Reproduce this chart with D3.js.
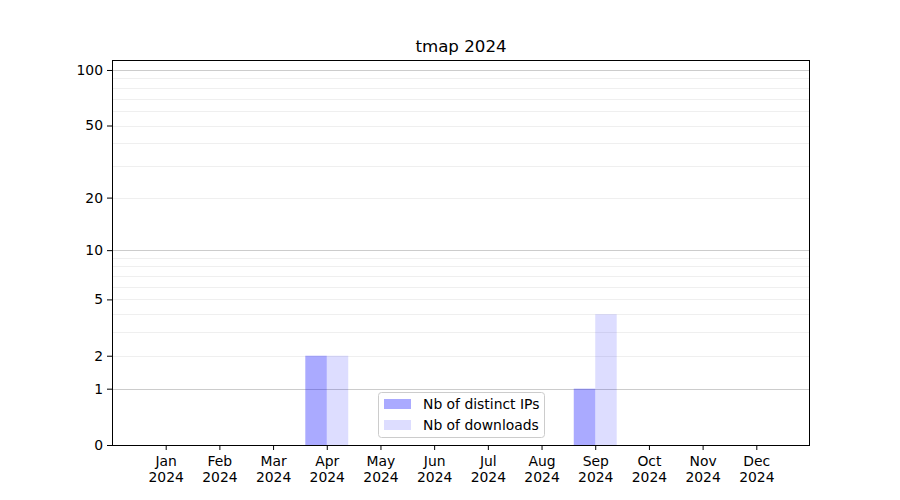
<!DOCTYPE html>
<html><head><meta charset="utf-8">
<script src="https://cdn.jsdelivr.net/npm/d3@7"></script>
<style>body{margin:0;background:#fff}svg{display:block}text{font-family:"DejaVu Sans",sans-serif}</style>
</head><body><svg id="c" width="900" height="500"></svg>
<script>
const months = ["Jan","Feb","Mar","Apr","May","Jun","Jul","Aug","Sep","Oct","Nov","Dec"];
const year = "2024";
const distinctIPs = [0,0,0,2,0,0,0,0,1,0,0,0];
const downloads = [0,0,0,2,0,0,0,0,4,0,0,0];
const yTicks = [0,1,2,5,10,20,50,100];
const majorGrid = [1,10,100];
const minorGrid = [2,3,4,5,6,7,8,9,20,30,40,50,60,70,80,90];
const seriesNames = ["Nb of distinct IPs","Nb of downloads"];
const title = "tmap 2024";

const svg = d3.select("#c");
const L=112,R=810,T=60,B=445;
const x = d3.scaleLinear().domain([-1,12]).range([L,R]);
const y = d3.scaleSymlog().constant(1).domain([0,113.2]).range([B,T]);
const bw = 0.4;

const g = svg.append("g");
g.selectAll(".mg").data(minorGrid).join("line")
  .attr("x1",L).attr("x2",R).attr("y1",d=>Math.round(y(d))+0.5).attr("y2",d=>Math.round(y(d))+0.5)
  .attr("stroke","#ebebeb").attr("stroke-width",0.8);
g.selectAll(".Mg").data(majorGrid).join("line")
  .attr("x1",L).attr("x2",R).attr("y1",d=>Math.round(y(d))+0.5).attr("y2",d=>Math.round(y(d))+0.5)
  .attr("stroke","#cccccc").attr("stroke-width",1);

g.selectAll(".b1").data(distinctIPs).join("rect")
  .attr("x",(d,i)=>x(i-bw)).attr("width",x(bw)-x(0))
  .attr("y",d=>y(d)).attr("height",d=>y(0)-y(d))
  .attr("fill","#0000ff").attr("fill-opacity",0.333);
g.selectAll(".b2").data(downloads).join("rect")
  .attr("x",(d,i)=>x(i)).attr("width",x(bw)-x(0))
  .attr("y",d=>y(d)).attr("height",d=>y(0)-y(d))
  .attr("fill","#0000ff").attr("fill-opacity",0.135);

// axes
const yAxis = d3.axisLeft(y).tickValues(yTicks).tickFormat(d3.format("d")).tickSize(5).tickPadding(4);
const ya = svg.append("g").attr("transform",`translate(${L},0)`).call(yAxis);
ya.select(".domain").remove();
ya.selectAll("text").attr("font-size","13.9px").attr("fill","#000");
ya.selectAll("line").attr("stroke","#000");

const xAxis = d3.axisBottom(x).tickValues(d3.range(12)).tickFormat(()=> "").tickSize(5);
const xa = svg.append("g").attr("transform",`translate(0,${B})`).call(xAxis);
xa.select(".domain").remove();
xa.selectAll("line").attr("stroke","#000");
xa.selectAll(".tick").each(function(d){
  const t = d3.select(this).append("text").attr("fill","#000").attr("font-size","13.9px").attr("text-anchor","middle");
  t.append("tspan").attr("x",0).attr("y",21).text(months[d]);
  t.append("tspan").attr("x",0).attr("y",37).text(year);
});

svg.append("rect").attr("x",L+0.5).attr("y",T+0.5).attr("width",R-L-1).attr("height",B-T)
  .attr("fill","none").attr("stroke","#000").attr("stroke-width",1);

svg.append("text").attr("x",(L+R)/2).attr("y",52).attr("text-anchor","middle")
  .attr("font-size","16.67px").text(title);

// legend
const lg = svg.append("g").attr("transform","translate(378,392)");
lg.append("rect").attr("x",0.5).attr("y",0.5).attr("width",166).attr("height",45).attr("rx",3)
  .attr("fill","#fff").attr("fill-opacity",0.8).attr("stroke","#cccccc");
const cols=[0.333,0.135];
seriesNames.forEach((n,i)=>{
  lg.append("rect").attr("x",6).attr("y",7+i*21).attr("width",27).attr("height",10)
    .attr("fill","#0000ff").attr("fill-opacity",cols[i]);
  lg.append("text").attr("x",45).attr("y",17+i*21).attr("font-size","13.9px").text(n);
});
</script></body></html>
